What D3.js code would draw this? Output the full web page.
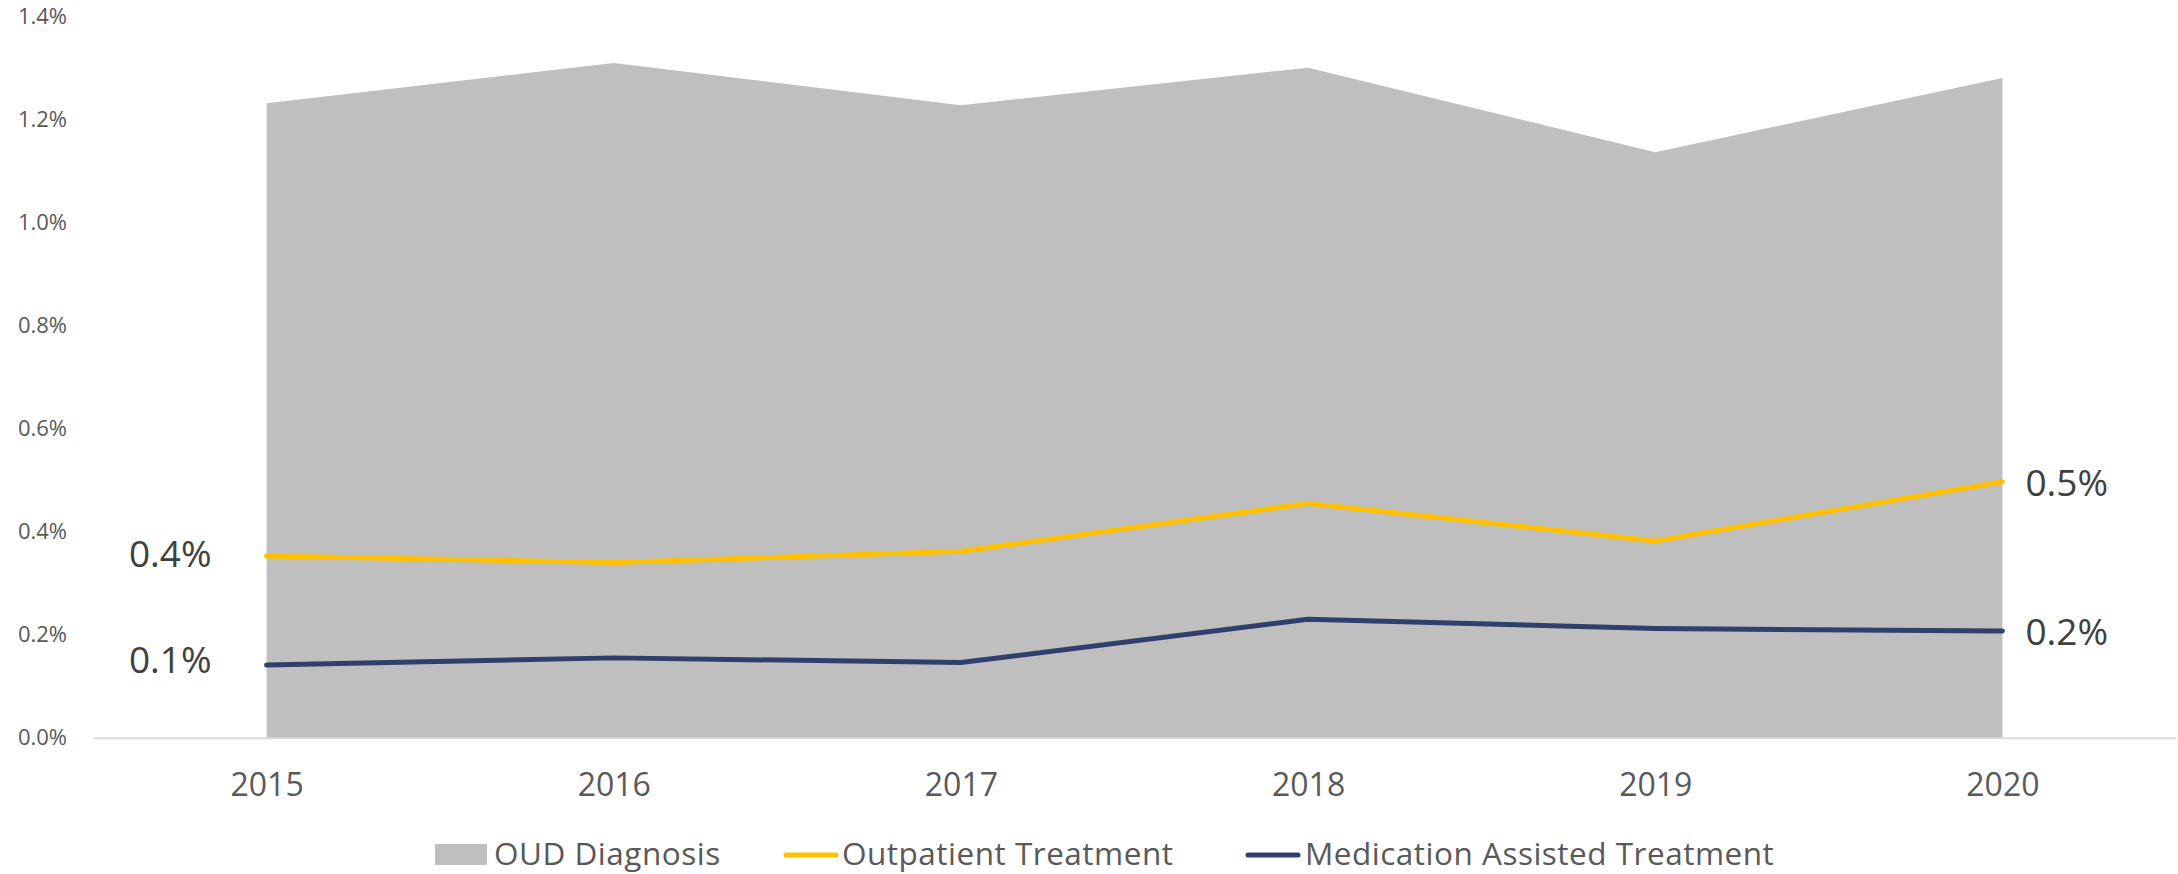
<!DOCTYPE html>
<html>
<head>
<meta charset="utf-8">
<script src="https://cdnjs.cloudflare.com/ajax/libs/d3/7.8.5/d3.min.js"></script>
<style>
  body { margin: 0; background: #fff; }
  svg { display: block; font-family: "Open Sans", "Noto Sans", sans-serif; }
</style>
</head>
<body>
<div id="chart"></div>
<script>
// data (share of population, as fractions)
var years = ["2015", "2016", "2017", "2018", "2019", "2020"];
var oudDiagnosis = [0.01232, 0.01310, 0.01228, 0.01301, 0.01137, 0.01281];
var outpatient = [0.00353, 0.00340, 0.00362, 0.00455, 0.00382, 0.00497];
var mat = [0.00141, 0.00155, 0.00146, 0.00230, 0.00212, 0.00207];
var yTicks = [0, 0.002, 0.004, 0.006, 0.008, 0.010, 0.012, 0.014];
var seriesNames = ["OUD Diagnosis", "Outpatient Treatment", "Medication Assisted Treatment"];

// settings for window
var w = 2178;
var h = 874;
var colors = { area: "#bfbfbf", out: "#ffc000", mat: "#303f6c" };

var svg = d3.select("#chart").append("svg").attr("width", w).attr("height", h);

// scales
var xScale = d3.scalePoint().domain(years).range([93, 2176]).padding(0.5);
var yScale = d3.scaleLinear().domain([0, 0.014]).range([737.7, 16.7]);

// gray area
var area = d3.area()
  .x(function(d, i) { return xScale(years[i]); })
  .y0(yScale(0))
  .y1(function(d) { return yScale(d); });
svg.append("path").datum(oudDiagnosis).attr("d", area).attr("fill", colors.area);

// y axis (labels only)
var yAxis = d3.axisLeft(yScale).tickValues(yTicks).tickSize(0).tickPadding(3).tickFormat(d3.format(".1%"));
var gy = svg.append("g").attr("transform", "translate(70,0)").call(yAxis);
gy.select(".domain").remove();
gy.selectAll("text").attr("font-family", "Open Sans").style("font-size", "22px").attr("fill", "#595959");

// x axis
var xAxis = d3.axisBottom(xScale).tickSize(0).tickSizeOuter(0).tickPadding(36);
var gx = svg.append("g").attr("transform", "translate(0," + yScale(0) + ")").call(xAxis);
gx.select(".domain").attr("stroke", "#d9d9d9").attr("stroke-width", 2);
gx.selectAll("text").attr("font-family", "Open Sans").style("font-size", "32px").attr("fill", "#595959");

// lines
var line = d3.line()
  .x(function(d, i) { return xScale(years[i]); })
  .y(function(d) { return yScale(d); });
[[outpatient, colors.out], [mat, colors.mat]].forEach(function(s) {
  svg.append("path").datum(s[0]).attr("d", line).attr("fill", "none")
    .attr("stroke", s[1]).attr("stroke-width", 5)
    .attr("stroke-linecap", "round").attr("stroke-linejoin", "round");
});

// data labels at first and last points
var fmt = d3.format(".1%");
var last = years.length - 1;
[outpatient, mat].forEach(function(s, k) {
  var off = k == 0 ? -2 : -5;
  svg.append("text").attr("x", xScale(years[0]) - 55).attr("y", yScale(s[0]) + off)
    .attr("dy", "0.35em").attr("text-anchor", "end").style("font-size", "37px")
    .attr("fill", "#404040").text(fmt(s[0]));
  svg.append("text").attr("x", xScale(years[last]) + 23).attr("y", yScale(s[last]) + 1)
    .attr("dy", "0.35em").attr("text-anchor", "start").style("font-size", "37px")
    .attr("fill", "#404040").text(fmt(s[last]));
});

// legend
var legend = svg.append("g").attr("transform", "translate(0,865)");
var lf = function(t) { return t.style("font-size", "31.5px").style("letter-spacing", "0.5px").attr("fill", "#595959"); };
legend.append("rect").attr("x", 435).attr("y", -21).attr("width", 52).attr("height", 21).attr("fill", colors.area);
lf(legend.append("text").attr("x", 494).attr("y", 0)).text(seriesNames[0]);
legend.append("line").attr("x1", 786).attr("x2", 836).attr("y1", -10).attr("y2", -10)
  .attr("stroke", colors.out).attr("stroke-width", 5).attr("stroke-linecap", "round");
lf(legend.append("text").attr("x", 842).attr("y", 0)).text(seriesNames[1]);
legend.append("line").attr("x1", 1248).attr("x2", 1298).attr("y1", -10).attr("y2", -10)
  .attr("stroke", colors.mat).attr("stroke-width", 5).attr("stroke-linecap", "round");
lf(legend.append("text").attr("x", 1305).attr("y", 0)).text(seriesNames[2]);
</script>
</body>
</html>
